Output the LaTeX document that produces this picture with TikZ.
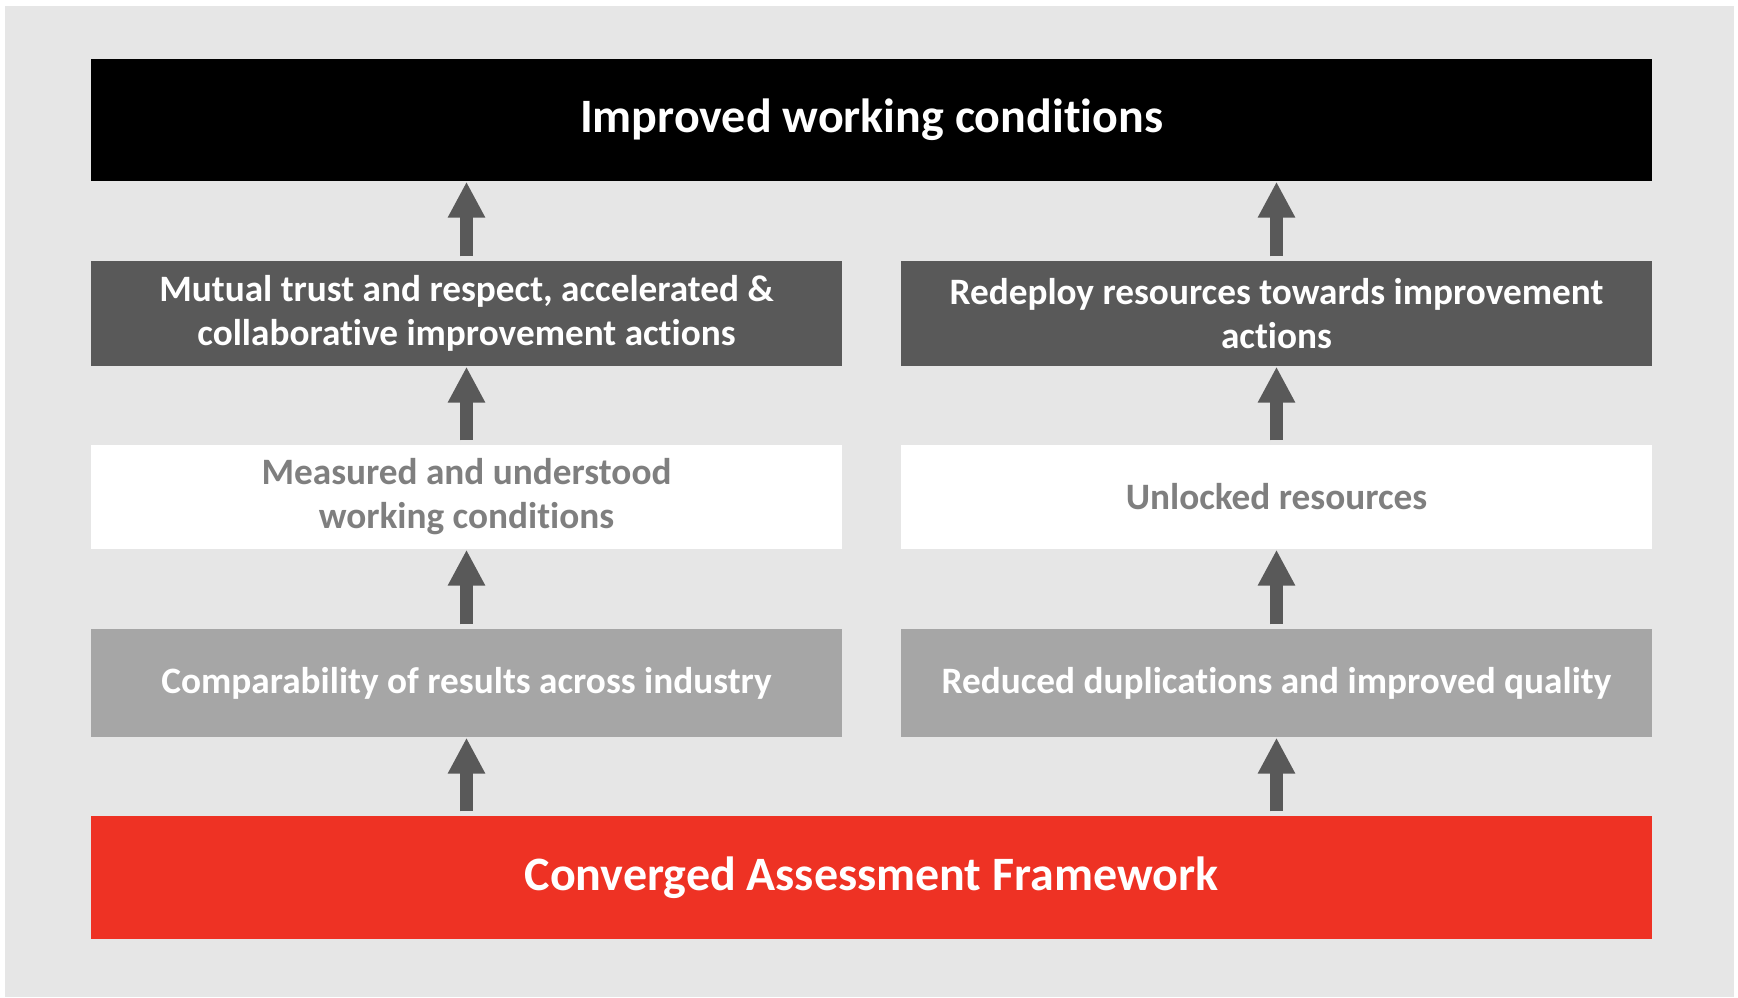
\documentclass[tikz,border=0pt]{standalone}
\usepackage{fontspec}
\setmainfont[Ligatures=NoCommon]{Carlito}
\usetikzlibrary{arrows.meta}

\definecolor{bggray}{RGB}{230,230,230}
\definecolor{darkbox}{RGB}{89,89,89}
\definecolor{lightbox}{RGB}{166,166,166}
\definecolor{softtext}{RGB}{127,127,127}
\definecolor{cafred}{RGB}{238,50,36}

\begin{document}
\begin{tikzpicture}[x=0.1mm,y=-0.1mm]

      \useasboundingbox (0,0) rectangle (1738,997);
      \fill[bggray] (5,6) rectangle (1734,997);

      \begin{scope}[every node/.style={rectangle,inner sep=0pt,align=center,text=white,
          minimum width=156.1mm,font=\fontsize{13.65}{16}\selectfont\bfseries}]
        \node[fill=black,minimum height=12.2mm] (top) at (871.5,120) {Improved working conditions};
        \node[fill=cafred,minimum height=12.3mm] (caf) at (871.5,877.5) {Converged Assessment Framework};
      \end{scope}

      \begin{scope}[every node/.style={rectangle,inner sep=0pt,align=center,text=white,
          minimum width=75.1mm,font=\fontsize{10.6}{12.5}\selectfont\bfseries}]
        \node[fill=darkbox,minimum height=10.5mm] (trust) at (466.5,313.5) {Mutual trust and respect, accelerated \&\\collaborative improvement actions};
        \node[fill=darkbox,minimum height=10.5mm] (redeploy) at (1276.5,313.5) {Redeploy resources towards improvement\\actions};
        \node[fill=white,text=softtext,minimum height=10.4mm] (measured) at (466.5,497) {Measured and understood\\working conditions};
        \node[fill=white,text=softtext,minimum height=10.4mm] (unlocked) at (1276.5,497) {Unlocked resources};
        \node[fill=lightbox,minimum height=10.8mm] (compare) at (466.5,683) {Comparability of results across industry};
        \node[fill=lightbox,minimum height=10.8mm] (reduced) at (1276.5,683) {Reduced duplications and improved quality};
      \end{scope}

      \begin{scope}[>={Triangle[length=3.6mm,width=3.5mm]},
          every edge/.style={draw=darkbox,line width=1.25mm,shorten <=0.4mm}]
        \path [->] (caf.north -| compare) edge (compare.south);
        \path [->] (compare) edge (measured);
        \path [->] (measured) edge (trust);
        \path [->] (trust.north) edge (top.south -| trust.north);
        \path [->] (caf.north -| reduced) edge (reduced.south);
        \path [->] (reduced) edge (unlocked);
        \path [->] (unlocked) edge (redeploy);
        \path [->] (redeploy.north) edge (top.south -| redeploy.north);
      \end{scope}
    \end{tikzpicture}
\end{document}
